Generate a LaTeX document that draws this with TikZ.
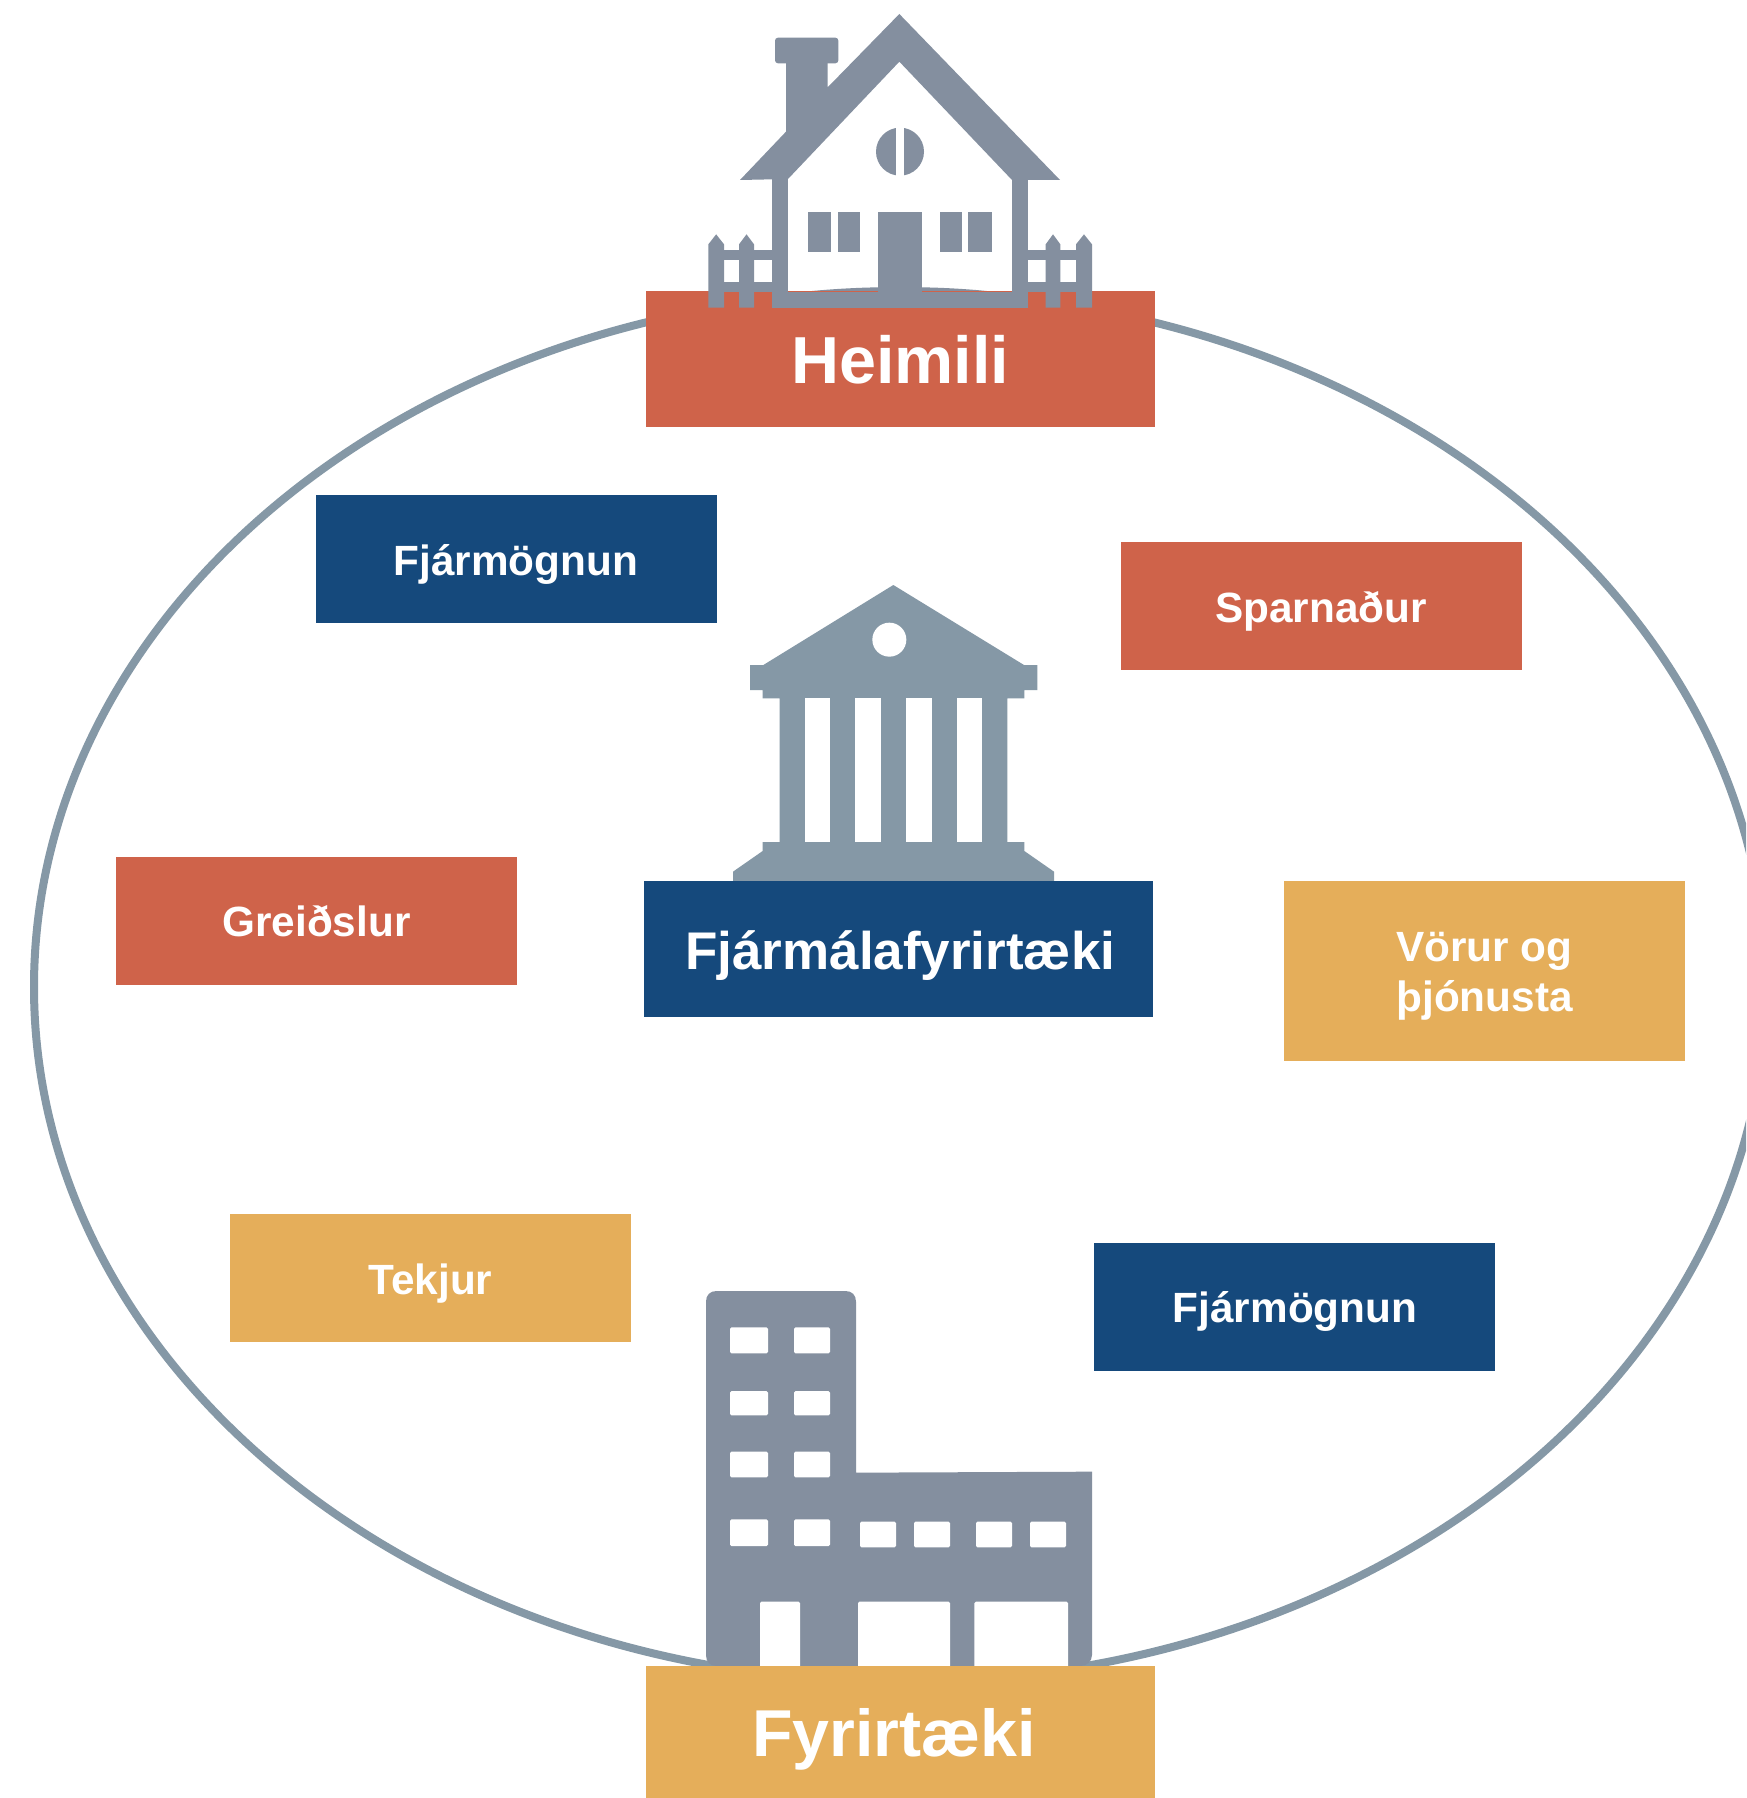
\documentclass[tikz,border=0pt]{standalone}
\usepackage{fontspec}
\setmainfont{Liberation Sans}
\definecolor{ring}{HTML}{8598A6}
\definecolor{slate}{HTML}{848F9F}
\definecolor{rust}{HTML}{CF634A}
\definecolor{navy}{HTML}{15497C}
\definecolor{gold}{HTML}{E5AE5A}
\tikzset{
  box/.style={inner sep=0pt,outer sep=0pt,text=white,align=center,font=\bfseries},
  small/.style={box,minimum width=401pt,font=\fontsize{42.3}{50}\selectfont\bfseries,text height=31pt,text depth=0pt},
  big/.style={box,minimum width=509pt},
  hole/.style={fill=white,rounded corners=1.5pt}
}
\begin{document}
\begin{tikzpicture}[x=1pt,y=-1pt]
\useasboundingbox (0,0) rectangle (1746,1798);
\fill[white] (0,0) rectangle (1746,1798);
\begin{scope}
\clip (0,0) rectangle (1746,1798);
\draw[ring,line width=8pt] (900,987) ellipse [x radius=866,y radius=695];
\end{scope}
% boxes
\node[big,fill=rust,minimum height=135.7pt,font=\fontsize{66.5}{80}\selectfont\bfseries,text height=49.5pt,text depth=0pt] (heimili) at (900.2,359) {Heimili};
\node[small,fill=navy,minimum height=127.5pt,text height=33pt] (fjarm1) at (516,559) {Fjármögnun};
\node[small,fill=rust,minimum height=127.5pt,text height=33pt] (sparn) at (1321,606) {Sparnaður};
\node[small,fill=rust,minimum height=128pt] (greid) at (316.5,921) {Greiðslur};
\node[small,fill=gold,minimum height=180pt,text height=81pt,text depth=0pt] (vorur) at (1484.5,971) {Vörur og\\þjónusta};
\node[small,fill=gold,minimum height=128pt,text height=33pt] (tekjur) at (430.5,1278) {Tekjur};
\node[small,fill=navy,minimum height=128pt] (fjarm2) at (1294,1307) {\rule{2pt}{0pt}Fjármögnun};
% house
\begin{scope}[shift={(680,0)},x=0.33333pt,y=-0.33333pt]
\fill[slate] (658,42) -- (1140,540) -- (996,540) -- (658,185) -- (324,537) -- (180,540) -- (318,395) -- (318,175) -- (443,175) -- (443,262) -- cycle;
\fill[slate,rounded corners=3pt] (285,113) rectangle (475,190);
\fill[slate] (276,537) rectangle (324,923);
\fill[slate] (996,537) rectangle (1044,923);
\fill[slate] (276,876) rectangle (1044,923);
\fill[slate] (396,873) .. controls (460,867) and (530,863) .. (595,862) -- (595,873) -- cycle;
\fill[slate] (920,873) .. controls (860,867) and (790,863) .. (725,862) -- (725,873) -- cycle;
\fill[slate] (384,635) rectangle (452,755);
\fill[slate] (474,635) rectangle (540,755);
\fill[slate] (595,635) rectangle (726,880);
\fill[slate] (779,635) rectangle (846,755);
\fill[slate] (865,635) rectangle (935,755);
\fill[slate] (660,455) circle [radius=72];
\fill[white] (648,380) rectangle (672,530);
% fence
\foreach \a/\b in {85/132,177/222,1097/1141,1188/1236}
  \fill[slate] (\a,923) -- (\a,733) -- ({(\a+\b)/2},703) -- (\b,733) -- (\b,923) -- cycle;
\fill[slate] (132,750) rectangle (276,780);
\fill[slate] (132,847) rectangle (276,876);
\fill[slate] (1044,750) rectangle (1188,780);
\fill[slate] (1044,847) rectangle (1188,876);
\end{scope}
% bank
\begin{scope}[shift={(720,570)},x=0.33333pt,y=-0.33333pt]
\fill[ring] (520,45) -- (912,285) -- (952,285) -- (952,360) -- (913,360) -- (913,385) -- (862,385) -- (862,816) -- (913,816) -- (913,843) -- (1002,905) -- (1002,940) -- (39,940) -- (39,905) -- (128,843) -- (128,816) -- (179,816) -- (179,385) -- (128,385) -- (128,360) -- (90,360) -- (90,285) -- (130,285) -- cycle;
\foreach \a/\b in {255/331,406/483,558/635,711/787}
  \fill[white] (\a,385) rectangle (\b,816);
\fill[white] (508,209) circle [radius=51];
\end{scope}
% office building
\begin{scope}[shift={(700,1270)},x=0.33333pt,y=-0.33333pt]
\fill[slate] (18,95) .. controls (18,75) and (30,63) .. (50,63) -- (436,63) .. controls (456,63) and (468,75) .. (468,95) -- (468,608) -- (1176,605) -- (1176,1155) .. controls (1176,1175) and (1160,1188) .. (1140,1188) -- (50,1188) .. controls (30,1188) and (18,1175) .. (18,1155) -- cycle;
\foreach \a/\b in {90/204,282/390}{
  \fill[hole] (\a,172) rectangle (\b,250);
  \fill[hole] (\a,363) rectangle (\b,436);
  \fill[hole] (\a,545) rectangle (\b,622);
  \fill[hole] (\a,748) rectangle (\b,828);
}
\foreach \a/\b in {480/588,642/750,828/936,990/1098}
  \fill[hole] (\a,755) rectangle (\b,832);
\foreach \a/\b in {180/300,474/750,823/1104}
  \fill[hole] (\a,995) rectangle (\b,1195);
\end{scope}
% boxes that lie over the icons
\node[big,fill=navy,minimum height=136pt,font=\fontsize{53}{60}\selectfont\bfseries,text height=40.7pt,text depth=0pt] (fjarmal) at (898,949) {\rule{4.5pt}{0pt}Fjármálafyrirtæki};
\node[big,fill=gold,minimum height=132pt,font=\fontsize{66.3}{80}\selectfont\bfseries,text height=49.5pt,text depth=0pt] (fyrirtaeki) at (900.5,1732) {Fyrirtæki\rule{12.6pt}{0pt}};
\end{tikzpicture}
\end{document}
